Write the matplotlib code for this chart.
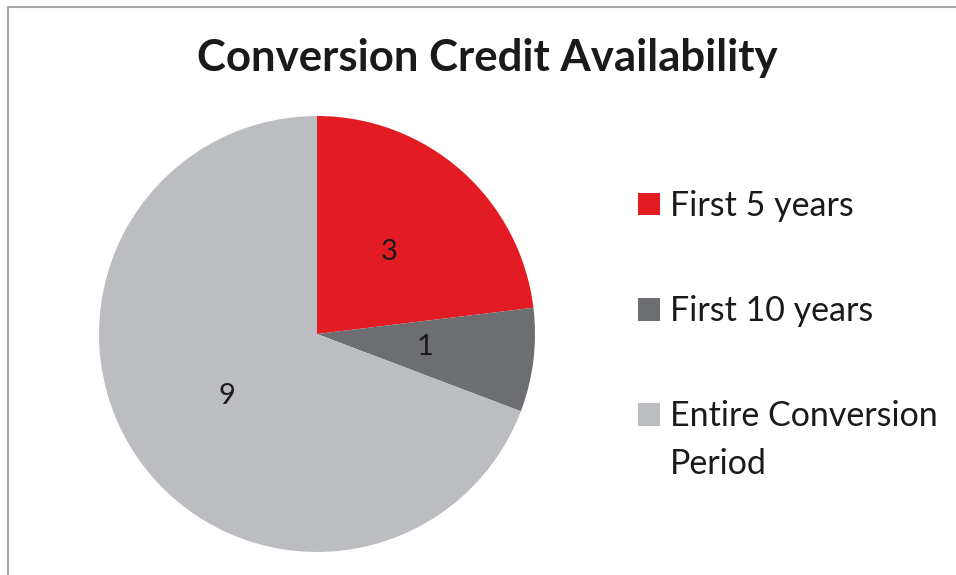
import matplotlib
matplotlib.use("Agg")
import matplotlib.pyplot as plt
from matplotlib.patches import Rectangle, Patch

categories = ["First 5 years", "First 10 years", "Entire Conversion"]
category_cont = "Period"
values = [3, 1, 9]
colors = ["#E31B23", "#6D6E71", "#BCBDC0"]
title = "Conversion Credit Availability"

W, H = 956, 575
fig = plt.figure(figsize=(W / 100, H / 100), dpi=100)
fig.patch.set_facecolor("white")

# outer chart border (cropped screenshot)
fig.add_artist(Rectangle((8 / W, -0.05), 1.2, (H - 7) / H + 0.05, transform=fig.transFigure,
                         fill=False, edgecolor="#A6A6A6", linewidth=1.5))

cx, cy, r = 317, 334, 218
ax = fig.add_axes([(cx - r) / W, (H - cy - r) / H, 2 * r / W, 2 * r / H])
wedges, texts, autotexts = ax.pie(values, colors=colors, startangle=90, counterclock=False,
                                  autopct=lambda p: f"{round(p * sum(values) / 100):d}",
                                  pctdistance=0.5, radius=1.0,
                                  wedgeprops=dict(linewidth=0),
                                  textprops=dict(fontsize=21, family="Lato", color="#1A1A1A"))
ax.set_xlim(-1, 1)
ax.set_ylim(-1, 1)
ax.set_aspect("equal")
ax.axis("off")

fig.text(487 / W, 1 - 58 / H, title, ha="center", va="center", fontsize=31.5,
         fontweight="bold", family="Lato", color="#1A1A1A")

handles = [Patch(facecolor=c, edgecolor="none") for c in colors]
leg = fig.legend(handles, categories, loc="upper left", bbox_to_anchor=(638 / W, 1 - 190 / H),
                 frameon=False, prop=dict(family="Lato", size=24.5), handlelength=0.65,
                 handleheight=0.65, handletextpad=0.3, labelspacing=2.15, borderpad=0,
                 borderaxespad=0)
for t in leg.get_texts():
    t.set_color("#1A1A1A")

fig.canvas.draw()
last = leg.get_texts()[-1]
bb = last.get_window_extent(renderer=fig.canvas.get_renderer())
fig.text(bb.x0 / W, (bb.y0 + bb.y1) / 2 / H - 48 / H, category_cont, ha="left", va="center",
         fontsize=24.5, family="Lato", color="#1A1A1A")

fig.savefig("out.png", dpi=100, facecolor="white")
